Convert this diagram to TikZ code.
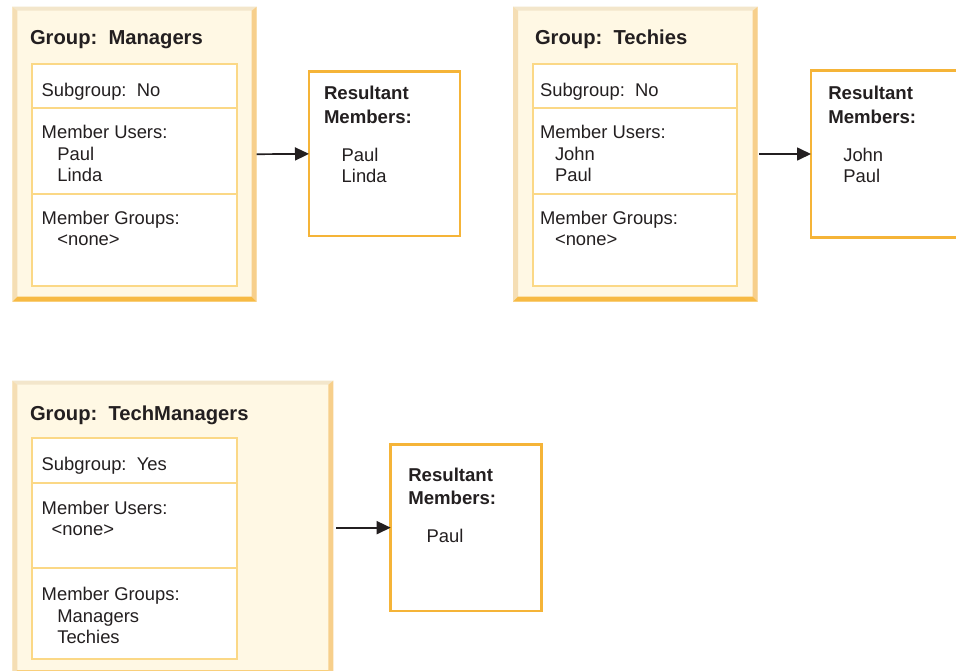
\documentclass[tikz,border=0pt]{standalone}
\usepackage{fontspec}
\setmainfont{Liberation Sans}
\usetikzlibrary{arrows.meta}
\definecolor{gfill}{HTML}{FFF8E4}
\definecolor{topc}{HTML}{F3E6CB}
\definecolor{leftc}{HTML}{F5DEB4}
\definecolor{rightc}{HTML}{F7CF8B}
\definecolor{bottomc}{HTML}{F7BA44}
\definecolor{cellc}{HTML}{FBD886}
\definecolor{resc}{HTML}{F5B438}
\definecolor{txtc}{HTML}{231F20}
\tikzset{
  groupbox/.style={fill=gfill, draw=none, inner sep=0pt, outer sep=0pt},
  cellbox/.style={draw=cellc, line width=2pt, fill=white, inner sep=0pt, outer sep=0pt, minimum width=204.4pt},
  resbox/.style={draw=resc, line width=2.7pt, fill=white, inner sep=0pt, outer sep=0pt, minimum width=151pt},
  txt/.style={anchor=base west, inner sep=0pt, outer sep=0pt, text=txtc, font=\fontsize{18.4}{21}\selectfont},
  ttl/.style={txt, font=\fontsize{20.2}{24}\selectfont\bfseries},
  rtxt/.style={txt, font=\fontsize{18.6}{22}\selectfont\bfseries},
  conn/.style={-{Triangle[length=14pt,width=13pt]}, line width=1.7pt, draw=txtc},
}
\newcommand{\gbevel}[1]{%
  \fill[topc] (#1.north west) -- (#1.north east) -- ([shift={(-5,4)}]#1.north east) -- ([shift={(5,4)}]#1.north west) -- cycle;
  \fill[leftc] (#1.north west) -- ([shift={(5,4)}]#1.north west) -- ([shift={(5,-5)}]#1.south west) -- (#1.south west) -- cycle;
  \fill[rightc] (#1.north east) -- (#1.south east) -- ([shift={(-5,-5)}]#1.south east) -- ([shift={(-5,4)}]#1.north east) -- cycle;
  \fill[bottomc] (#1.south west) -- (#1.south east) -- ([shift={(-5,-5)}]#1.south east) -- ([shift={(5,-5)}]#1.south west) -- cycle;
}
\begin{document}
\begin{tikzpicture}[x=1pt,y=-1pt]
\useasboundingbox (0,0) rectangle (956,670);
\clip (0,0) rectangle (956,670);
\fill[white] (0,0) rectangle (956,670);

% ---------- Managers ----------
\node[groupbox, minimum width=244.4pt, minimum height=295pt] (mgr) at (134.5,154.2) {};
\gbevel{mgr}
\node[cellbox, minimum height=44.3pt] (mgrA) at (134.5,86.15) {};
\node[cellbox, minimum height=85.7pt] (mgrB) at (134.5,151.15) {};
\node[cellbox, minimum height=92pt] (mgrC) at (134.5,240) {};
\node[ttl] (mgrT) at (30,44.3) {Group:\ \ Managers};
\node[txt] (mgrA1) at (41.7,96) {Subgroup:\ \ No};
\node[txt] (mgrB1) at (41.7,138.3) {Member Users:};
\node[txt] (mgrB2) at (57.3,160) {Paul};
\node[txt] (mgrB3) at (57.3,181) {Linda};
\node[txt] (mgrC1) at (41.7,224) {Member Groups:};
\node[txt] (mgrC2) at (57.3,245) {<none>};

\node[resbox, minimum height=164.3pt] (mgrres) at (384.5,153.85) {};
\node[rtxt] (mgrR1) at (324,99.3) {Resultant};
\node[rtxt] (mgrR2) at (324,123) {Members:};
\node[txt] (mgrR3) at (341.7,161.5) {Paul};
\node[txt] (mgrR4) at (341.7,182) {Linda};
\draw[conn] (mgr.east) -- (mgrres.west);

% ---------- Techies ----------
\node[groupbox, minimum width=244.7pt, minimum height=295pt] (tech) at (635.35,154.2) {};
\gbevel{tech}
\node[cellbox, minimum height=44.3pt] (techA) at (635.2,86.15) {};
\node[cellbox, minimum height=85.7pt] (techB) at (635.2,151.15) {};
\node[cellbox, minimum height=92pt] (techC) at (635.2,240) {};
\node[ttl] (techT) at (535,44.3) {Group:\ \ Techies};
\node[txt] (techA1) at (540,96) {Subgroup:\ \ No};
\node[txt] (techB1) at (540,138.3) {Member Users:};
\node[txt] (techB2) at (555,160) {John};
\node[txt] (techB3) at (555,181) {Paul};
\node[txt] (techC1) at (540,224) {Member Groups:};
\node[txt] (techC2) at (555,245) {<none>};

\node[resbox, minimum height=166.6pt] (techres) at (886.5,154) {};
\node[rtxt] (techR1) at (828.3,99.3) {Resultant};
\node[rtxt] (techR2) at (828.3,123) {Members:};
\node[txt] (techR3) at (843.3,161.5) {John};
\node[txt] (techR4) at (843.3,182) {Paul};
\draw[conn] ([xshift=1.3pt]techres.west -| tech.east) -- (techres.west);

% ---------- TechManagers ----------
\node[groupbox, minimum width=321pt, minimum height=294.6pt] (tm) at (172.8,528) {};
\gbevel{tm}
\node[cellbox, minimum height=45pt] (tmA) at (134.5,460.2) {};
\node[cellbox, minimum height=85.6pt] (tmB) at (134.5,525.5) {};
\node[cellbox, minimum height=91pt] (tmC) at (134.5,613.8) {};
\node[ttl] (tmT) at (30,420) {Group:\ \ TechManagers};
\node[txt] (tmA1) at (41.7,470.7) {Subgroup:\ \ Yes};
\node[txt] (tmB1) at (41.7,514) {Member Users:};
\node[txt] (tmB2) at (51.7,535.7) {<none>};
\node[txt] (tmC1) at (41.7,600.7) {Member Groups:};
\node[txt] (tmC2) at (57.3,622.3) {Managers};
\node[txt] (tmC3) at (57.3,643.3) {Techies};

\node[resbox, minimum height=166.7pt] (tmres) at (466.2,527.65) {};
\node[rtxt] (tmR1) at (408.3,481.7) {Resultant};
\node[rtxt] (tmR2) at (408.3,504) {Members:};
\node[txt] (tmR3) at (426.7,542.3) {Paul};
\draw[conn] ([xshift=2.7pt]tmres.west -| tm.east) -- (tmres.west);
\end{tikzpicture}
\end{document}
